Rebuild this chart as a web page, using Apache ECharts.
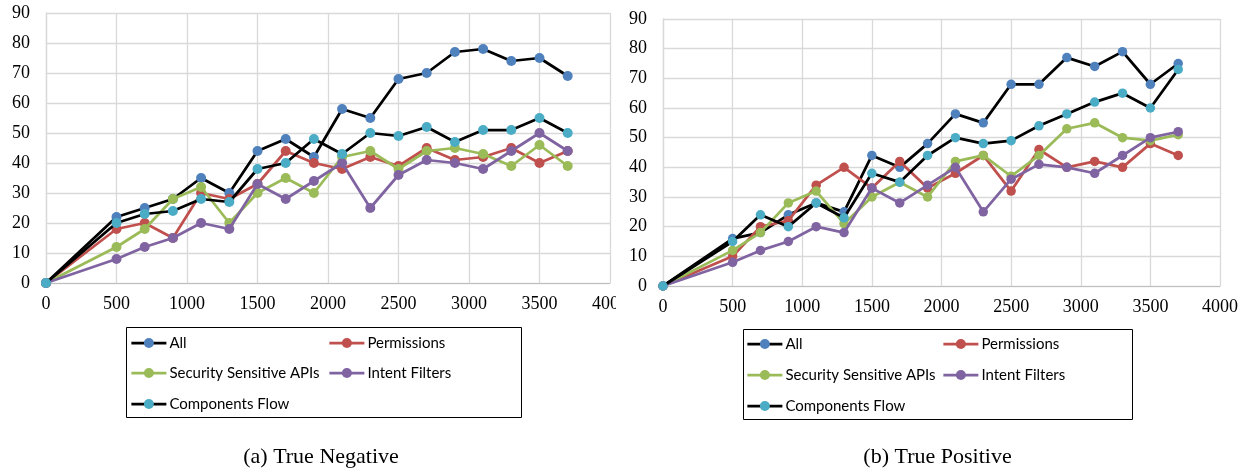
<!DOCTYPE html>
<html>
<head>
<meta charset="utf-8">
<script src="https://cdn.jsdelivr.net/npm/echarts@6/dist/echarts.min.js"></script>
<style>
  html, body { margin: 0; padding: 0; background: #fff; }
  #wrap { position: relative; width: 1250px; height: 468px; overflow: hidden; }
  #left { position: absolute; left: 0; top: 0; width: 616px; height: 468px; }
  #right { position: absolute; left: 616px; top: 0; width: 634px; height: 468px; }
</style>
</head>
<body>
<div id="wrap"><div id="left"></div><div id="right"></div></div>
<script>
// ---- data ----
const xValues = [0, 500, 700, 900, 1100, 1300, 1500, 1700, 1900, 2100, 2300, 2500, 2700, 2900, 3100, 3300, 3500, 3700];
const seriesNames = ['All', 'Permissions', 'Security Sensitive APIs', 'Intent Filters', 'Components Flow'];

// (a) True Negative
const tnAll         = [0, 22, 25, 28, 35, 30, 44, 48, 42, 58, 55, 68, 70, 77, 78, 74, 75, 69];
const tnPermissions = [0, 18, 20, 15, 30, 28, 33, 44, 40, 38, 42, 39, 45, 41, 42, 45, 40, 44];
const tnSecurityAPIs= [0, 12, 18, 28, 32, 20, 30, 35, 30, 42, 44, 38, 44, 45, 43, 39, 46, 39];
const tnIntent      = [0, 8, 12, 15, 20, 18, 33, 28, 34, 40, 25, 36, 41, 40, 38, 44, 50, 44];
const tnComponents  = [0, 20, 23, 24, 28, 27, 38, 40, 48, 43, 50, 49, 52, 47, 51, 51, 55, 50];

// (b) True Positive
const tpAll         = [0, 16, 18, 24, 28, 25, 44, 40, 48, 58, 55, 68, 68, 77, 74, 79, 68, 75];
const tpPermissions = [0, 10, 20, 22, 34, 40, 33, 42, 33, 38, 44, 32, 46, 40, 42, 40, 48, 44];
const tpSecurityAPIs= [0, 12, 18, 28, 32, 21, 30, 35, 30, 42, 44, 37, 44, 53, 55, 50, 49, 51];
const tpIntent      = [0, 8, 12, 15, 20, 18, 33, 28, 34, 40, 25, 36, 41, 40, 38, 44, 50, 52];
const tpComponents  = [0, 15, 24, 20, 28, 23, 38, 35, 44, 50, 48, 49, 54, 58, 62, 65, 60, 73];

const captionA = '(a) True Negative';
const captionB = '(b) True Positive';

// ---- styles ----
const markerColors = ['#4F81BD', '#C0504D', '#9BBB59', '#8064A2', '#4BACC6'];
const lineColors   = ['#000000', '#C0504D', '#9BBB59', '#8064A2', '#000000'];
const gridColor = '#d9d9d9';

function pairs(vals) { return xValues.map((x, i) => [x, vals[i]]); }

function buildOption(cfg) {
  const valueSets = cfg.values;
  const series = seriesNames.map((name, i) => ({
    name: name,
    type: 'line',
    data: pairs(valueSets[i]),
    symbol: 'circle',
    symbolSize: cfg.symbolSize,
    showSymbol: true,
    lineStyle: { color: lineColors[i], width: 2.75 },
    itemStyle: { color: markerColors[i], borderWidth: 0 },
    emphasis: { disabled: true },
    animation: false,
    z: 2 + i
  }));
  const legends = cfg.legendPos.map((p, i) => ({
    data: [seriesNames[i]],
    left: p[0], top: p[1] - 9,
    padding: 0, itemGap: 0,
    itemWidth: 35, itemHeight: 12.5,
    selectedMode: false,
    lineStyle: { width: 2.75 },
    textStyle: { fontFamily: 'Lato', fontSize: 15, color: '#000', lineHeight: 18, padding: [0, 0, 0, -2] }
  }));
  return {
    animation: false,
    grid: { left: cfg.grid[0], top: cfg.grid[1], right: cfg.grid[2], bottom: cfg.grid[3],
            containLabel: false, outerBoundsMode: 'none' },
    xAxis: {
      type: 'value', min: 0, max: 4000, interval: 500,
      axisLine: { show: true, lineStyle: { color: '#bfbfbf', width: 1 } },
      axisTick: { show: false },
      splitLine: { show: true, lineStyle: { color: gridColor, width: 1.3 } },
      axisLabel: { color: '#000', fontFamily: 'Liberation Serif', fontSize: 18, margin: 12,
                   showMaxLabel: true, showMinLabel: true, formatter: v => String(v) }
    },
    yAxis: {
      type: 'value', min: 0, max: 90, interval: 10,
      axisLine: { show: true, lineStyle: { color: gridColor, width: 1.3 } },
      axisTick: { show: false },
      splitLine: { show: true, lineStyle: { color: gridColor, width: 1.3 } },
      axisLabel: { color: '#000', fontFamily: 'Liberation Serif', fontSize: 18, margin: 16, formatter: v => String(v) }
    },
    legend: legends,
    title: {
      text: cfg.caption, left: cfg.captionX, top: 452, textAlign: 'center', textVerticalAlign: 'middle',
      textStyle: { fontFamily: 'Liberation Serif', fontSize: 22, fontWeight: 'normal', color: '#000' }
    },
    graphic: [{
      type: 'rect', silent: true,
      shape: { x: cfg.box[0], y: cfg.box[1], width: cfg.box[2], height: cfg.box[3] },
      style: { fill: 'none', stroke: '#000', lineWidth: 1 }
    }],
    series: series
  };
}

const leftChart = echarts.init(document.getElementById('left'), null, { renderer: 'canvas' });
leftChart.setOption(buildOption({
  values: [tnAll, tnPermissions, tnSecurityAPIs, tnIntent, tnComponents],
  grid: [46, 13, 6, 185],
  symbolSize: 10,
  legendPos: [[130, 343], [328, 343], [130, 373], [328, 373], [130, 404]],
  box: [126.5, 327.5, 395, 90],
  caption: captionA, captionX: 316
}));

// right chart div starts at x = 616
const rightChart = echarts.init(document.getElementById('right'), null, { renderer: 'canvas' });
rightChart.setOption(buildOption({
  values: [tpAll, tpPermissions, tpSecurityAPIs, tpIntent, tpComponents],
  grid: [47, 19, 30, 182],
  symbolSize: 9.5,
  legendPos: [[130, 344], [326, 344], [130, 375], [326, 375], [130, 406]],
  box: [127.5, 329.5, 389, 90],
  caption: captionB, captionX: 316.5
}));
</script>
</body>
</html>
